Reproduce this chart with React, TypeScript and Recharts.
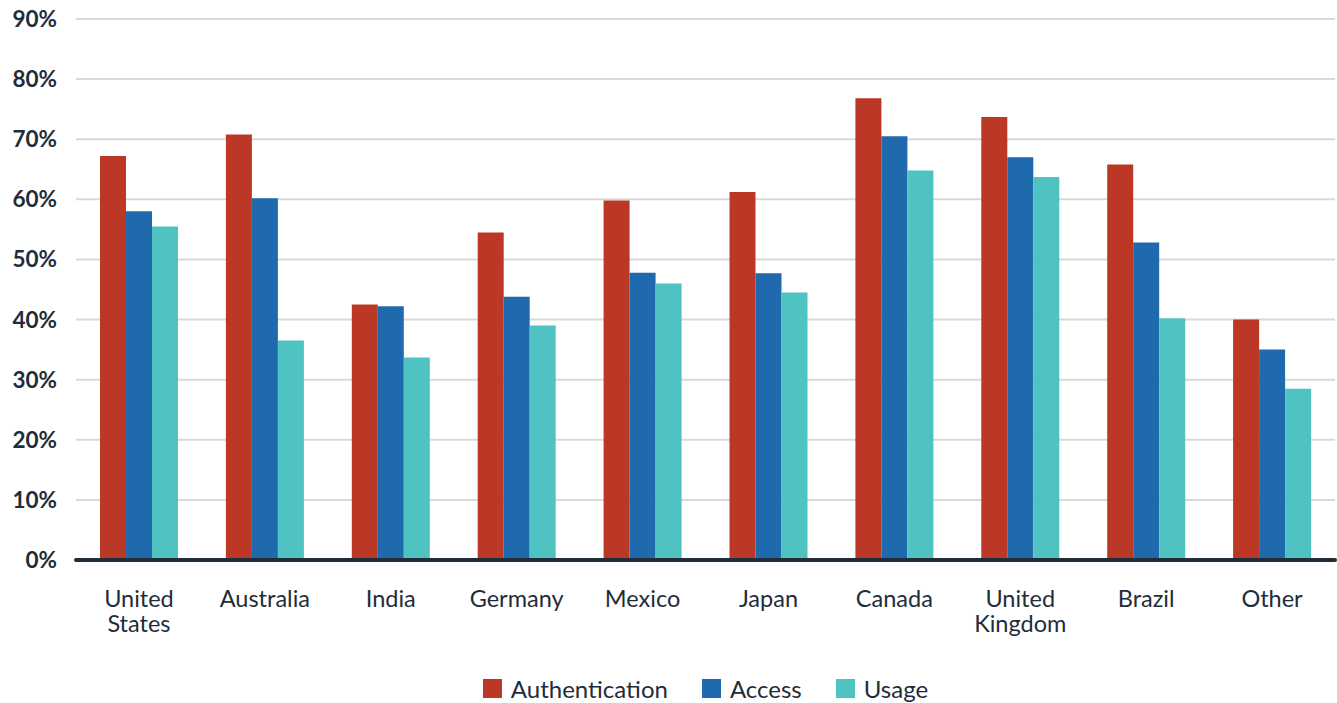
import { BarChart, Bar, XAxis, YAxis, CartesianGrid, Legend } from "recharts";

const countries = [
  "United States",
  "Australia",
  "India",
  "Germany",
  "Mexico",
  "Japan",
  "Canada",
  "United Kingdom",
  "Brazil",
  "Other",
];
const authentication = [67.2, 70.8, 42.5, 54.5, 59.8, 61.2, 76.8, 73.7, 65.8, 40.0];
const access = [58.0, 60.2, 42.2, 43.8, 47.8, 47.7, 70.5, 67.0, 52.8, 35.0];
const usage = [55.5, 36.5, 33.7, 39.0, 46.0, 44.5, 64.8, 63.7, 40.2, 28.5];
const yTicks = [0, 10, 20, 30, 40, 50, 60, 70, 80, 90];

const TEXT = "#1f2d3a";
const series = [
  { key: "authentication", name: "Authentication", color: "#bc3826" },
  { key: "access", name: "Access", color: "#1f6aad" },
  { key: "usage", name: "Usage", color: "#4fc3c1" },
];

const data = countries.map((c, i) => ({
  country: c,
  authentication: authentication[i],
  access: access[i],
  usage: usage[i],
}));

// eslint-disable-next-line @typescript-eslint/no-explicit-any
function CountryTick({ x, y, payload }: any) {
  const words = String(payload.value).split(" ");
  return (
    <text
      x={x}
      y={y}
      textAnchor="middle"
      fill={TEXT}
      fontSize={23.5}
      fontFamily="Lato, sans-serif"
    >
      {words.map((w, i) => (
        <tspan key={w} x={x} dy={i === 0 ? 47 : 25}>
          {w}
        </tspan>
      ))}
    </text>
  );
}

function LegendContent() {
  return (
    <div
      style={{
        display: "flex",
        justifyContent: "center",
        alignItems: "center",
        height: 30,
        fontFamily: "Lato, sans-serif",
        fontSize: 24,
        color: TEXT,
      }}
    >
      {series.map((s, i) => (
        <div
          key={s.key}
          style={{
            display: "flex",
            alignItems: "center",
            marginRight: i < series.length - 1 ? 34 : 0,
          }}
        >
          <span
            style={{
              width: 19,
              height: 19,
              background: s.color,
              display: "inline-block",
              marginRight: 9,
            }}
          />
          {s.name}
        </div>
      ))}
    </div>
  );
}

export default function App() {
  return (
    <div style={{ position: "absolute", left: 0, top: 0, background: "#fff" }}>
      <BarChart
        width={1337}
        height={703}
        data={data}
        margin={{ top: 19, right: 2, bottom: 53, left: 0 }}
        barCategoryGap={24}
        barGap={0}
      >
        <CartesianGrid
          horizontal
          vertical={false}
          stroke="#d9d9d9"
          strokeWidth={2}
        />
        <XAxis
          dataKey="country"
          height={60}
          interval={0}
          tickLine={false}
          tickSize={0}
          tickMargin={0}
          axisLine={{ stroke: TEXT, strokeWidth: 4, strokeLinecap: "round" }}
          tick={<CountryTick />}
        />
        <YAxis
          domain={[0, 90]}
          ticks={yTicks}
          width={76}
          tickLine={false}
          axisLine={false}
          tickSize={0}
          tickMargin={19}
          tickFormatter={(v) => `${v}%`}
          tick={{
            fill: TEXT,
            fontSize: 22.5,
            fontWeight: 700,
            fontFamily: "Lato, sans-serif",
          }}
        />
        <Legend
          verticalAlign="bottom"
          content={<LegendContent />}
          wrapperStyle={{ bottom: 0, top: "auto", left: 76, width: 1259 }}
        />
        {series.map((s) => (
          <Bar
            key={s.key}
            dataKey={s.key}
            name={s.name}
            fill={s.color}
            isAnimationActive={false}
          />
        ))}
      </BarChart>
    </div>
  );
}
